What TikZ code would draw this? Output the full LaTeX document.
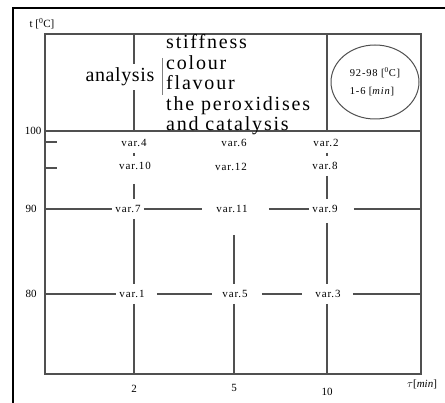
\documentclass[tikz,border=0pt]{standalone}
\usepackage{fontspec}
\setmainfont{Liberation Serif}
\newfontfamily\spacedfont[LetterSpace=9]{Liberation Serif}
\newfontfamily\anafont[LetterSpace=3]{Liberation Serif}
\newfontfamily\varfont[LetterSpace=8]{Liberation Serif}
\usepackage{tikz}
\usetikzlibrary{shapes.geometric}
\definecolor{gridgray}{HTML}{505050}

\begin{document}
\begin{tikzpicture}[x=1pt, y=-1pt,
    gridline/.style={draw=gridgray, line width=1.1pt},
    varlabel/.style={font=\varfont\fontsize{11}{12}\selectfont, inner xsep=3pt, inner ysep=6pt},
    axislabel/.style={font=\fontsize{11}{12}\selectfont, inner sep=1pt}]
  \useasboundingbox (0,0) rectangle (445,403);
  \fill[white] (0,0) rectangle (445,403);
  \draw[line width=2.5pt] (445,8) -- (13,8) -- (13,403);

  % plot frame and grid
  \coordinate (tl) at (45,34);
  \coordinate (br) at (421,374);
  \coordinate (r100) at (45,131);
  \coordinate (r90) at (45,209);
  \coordinate (r80) at (45,294);
  \coordinate (c2) at (134,374);
  \coordinate (c5) at (234,374);
  \coordinate (c10) at (327,374);
  \draw[gridline] (tl) rectangle (br);
  \draw[gridline] (r100) -- (r100 -| br);
  \draw[gridline] (c10 |- tl) -- (c10 |- r100);
  \draw[gridline] (45,142) -- (57,142) (45,168) -- (57,168);

  % upper field
  \node[font=\anafont\fontsize{20}{20}\selectfont, inner xsep=0pt, inner ysep=4pt] (analysis) at (120,77) {analysis};
  \draw[gridline] (c2 |- tl) -- (c2 |- analysis.north);
  \draw[gridline] (c2 |- analysis.south) -- (c2 |- r100);
  \draw[draw=gray, line width=1pt] (162,58) -- (162,95);
  \node[font=\spacedfont\fontsize{20}{20.5}\selectfont, align=left, anchor=west, inner sep=0pt] (props) at (166,85)
    {stiffness\\ colour\\ flavour\\ the peroxidises\\ and catalysis};
  \node[ellipse, draw=gridgray, line width=1pt, minimum width=88pt, minimum height=74pt,
        font=\varfont\fontsize{10.5}{18}\selectfont, align=left, inner sep=0pt] (range) at (375,82)
    {92-98 [\textsuperscript{0}C]\\1-6 [\textit{min}]};

  % variants
  \node[varlabel] (v4) at (134,143) {var.4};
  \node[varlabel] (v10) at (135,166) {var.10};
  \node[varlabel] (v7) at (128,209) {var.7};
  \node[varlabel] (v1) at (132,294) {var.1};
  \node[varlabel] (v6) at (234,143) {var.6};
  \node[varlabel] (v12) at (231,167) {var.12};
  \node[varlabel] (v11) at (232,209) {var.11};
  \node[varlabel] (v5) at (235,294) {var.5};
  \node[varlabel] (v2) at (326,143) {var.2};
  \node[varlabel] (v8) at (325,166) {var.8};
  \node[varlabel] (v9) at (325,209) {var.9};
  \node[varlabel] (v3) at (328,294) {var.3};

  % columns
  \draw[gridline] (c2 |- v4.south) -- (c2 |- v10.north);
  \draw[gridline, shorten <=8pt] (c2 |- v10.south) -- (c2 |- v7.north);
  \draw[gridline] (c2 |- v7.south) -- (c2 |- v1.north);
  \draw[gridline] (c2 |- v1.south) -- (c2);
  \draw[gridline, shorten <=16pt] (c5 |- v11.south) -- (c5 |- v5.north);
  \draw[gridline] (c5 |- v5.south) -- (c5);
  \draw[gridline] (c10 |- v2.south) -- (c10 |- v8.north);
  \draw[gridline] (c10 |- v8.south) -- (c10 |- v9.north);
  \draw[gridline, shorten <=4pt] (c10 |- v9.south) -- (c10 |- v3.north);
  \draw[gridline] (c10 |- v3.south) -- (c10);

  % rows
  \draw[gridline] (r90) -- (v7);
  \draw[gridline, shorten >=11pt] (v7) -- (v11);
  \draw[gridline, shorten <=18pt] (v11) -- (v9);
  \draw[gridline, shorten <=13pt] (v9) -- (r90 -| br);
  \draw[gridline] (r80) -- (v1);
  \draw[gridline, shorten <=9pt, shorten >=7pt] (v1) -- (v5);
  \draw[gridline, shorten <=11pt, shorten >=10pt] (v5) -- (v3);
  \draw[gridline, shorten <=9pt] (v3) -- (r80 -| br);

  % axis labels
  \node[axislabel] (ylab) at (42,24) {t [\textsuperscript{0}C]};
  \node[axislabel] (y100) at (33,131) {100};
  \node[axislabel] (y90) at (31,209) {90};
  \node[axislabel] (y80) at (31,294) {80};
  \node[axislabel] (x2) at (134,389) {2};
  \node[axislabel] (x5) at (234,388) {5};
  \node[axislabel] (x10) at (327,392) {10};
  \node[axislabel] (xlab) at (422,384) {$\tau$[\textit{min}]};
\end{tikzpicture}
\end{document}
